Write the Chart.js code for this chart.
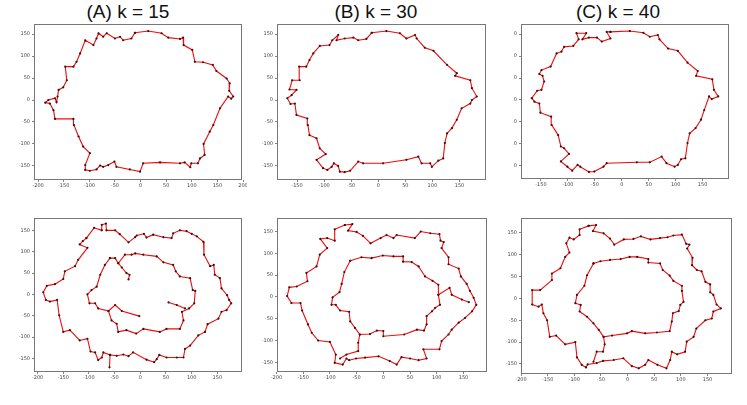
<!DOCTYPE html>
<html>
<head>
<title>Loop reconstruction for different k</title>
<script src="https://cdn.jsdelivr.net/npm/chart.js"></script>
<style>
  body { margin: 0; background: #fff; width: 747px; height: 405px; overflow: hidden; position: relative; }
  .ttl { position: absolute; top: 2px; width: 140px; text-align: center; font-family: "Liberation Sans", Arial, sans-serif;
         font-size: 19px; line-height: 19px; color: #111; }
  canvas { position: absolute; }
</style>
</head>
<body>
<div class="ttl" style="left:58px">(A) k = 15</div>
<div class="ttl" style="left:306px">(B) k = 30</div>
<div class="ttl" style="left:548px">(C) k = 40</div>
<canvas id="pa"></canvas>
<canvas id="pb"></canvas>
<canvas id="pc"></canvas>
<canvas id="pd"></canvas>
<canvas id="pe"></canvas>
<canvas id="pf"></canvas>
<script>
// ---- data ----
const aX = [-11,15,41,54,77,83,84,101,106,122,141,148,168,174,173,181,177,171,155,142,135,123,125,116,112,99,97,86,77,38,5,-1,-21,-47,-51,-63,-73,-79,-86,-99,-108,-108,-99,-112,-121,-130,-131,-167,-170,-177,-186,-180,-167,-164,-162,-160,-151,-144,-147,-131,-125,-118,-108,-92,-86,-82,-73,-66,-50,-40,-34,-18,-11];
const aY = [153,157,152,142,139,142,125,114,87,86,80,66,49,38,21,8,3,8,-19,-57,-72,-100,-125,-133,-144,-144,-153,-142,-144,-142,-144,-163,-158,-152,-140,-148,-152,-149,-158,-161,-159,-148,-121,-106,-83,-57,-43,-43,-23,-8,-6,0,4,-5,8,23,29,45,76,76,87,106,136,125,140,152,144,152,140,144,136,140,153];

const bX = [-12,15,40,52,68,71,86,102,127,145,142,170,173,182,173,170,154,145,136,127,123,120,111,99,96,80,74,52,9,-28,-37,-52,-62,-71,-74,-82,-86,-94,-102,-114,-97,-108,-114,-127,-130,-131,-151,-154,-162,-168,-160,-151,-164,-159,-145,-146,-133,-127,-120,-108,-90,-85,-74,-77,-62,-46,-37,-22,-12];
const bY = [153,157,152,140,148,140,119,112,80,61,55,45,27,8,0,-8,-19,-45,-64,-76,-98,-133,-138,-152,-144,-144,-129,-136,-144,-144,-140,-161,-164,-163,-150,-144,-152,-159,-155,-136,-123,-110,-87,-80,-57,-42,-34,-8,-9,4,11,23,24,45,45,76,76,91,106,123,125,136,148,136,140,142,136,139,153];

const cX = [-21,15,40,52,67,70,86,104,122,141,138,168,171,179,167,162,153,147,137,126,122,118,110,104,98,83,74,52,28,-28,-34,-51,-61,-77,-82,-92,-101,-113,-98,-107,-113,-118,-130,-131,-151,-153,-162,-167,-157,-149,-144,-147,-153,-149,-132,-121,-112,-107,-90,-80,-84,-66,-73,-61,-46,-37,-21,-28,-21];
const cY = [155,157,153,144,148,138,117,112,85,66,55,47,23,8,2,8,-23,-45,-64,-76,-98,-133,-135,-148,-152,-144,-129,-142,-142,-144,-152,-163,-164,-152,-148,-161,-152,-140,-123,-110,-106,-80,-57,-38,-29,-8,-4,4,21,23,42,55,59,68,76,106,110,121,123,138,152,152,138,142,142,133,140,155,155];

const dOutX = [-105,-90,-75,-75,-67,-66,-49,-40,-23,-10,-7,7,12,25,45,61,64,77,90,100,110,123,124,136,143,145,155,158,169,173,177,168,158,152,131,126,113,97,87,84,71,51,37,32,27,12,-14,-23,-33,-46,-59,-60,-59,-72,-75,-82,-88,-97,-103,-118,-137,-150,-158,-162,-176,-184,-189,-182,-166,-150,-147,-127,-121,-103,-118,-112,-105];
const dOutY = [132,156,150,163,166,150,150,141,122,134,138,142,133,140,134,132,143,150,148,142,136,123,93,66,69,46,38,14,-2,-13,-21,-37,-41,-57,-70,-88,-96,-120,-128,-148,-148,-148,-142,-152,-159,-153,-136,-145,-141,-144,-142,-171,-142,-136,-148,-154,-136,-134,-104,-108,-84,-88,-49,-13,-17,-13,5,20,24,36,54,66,81,109,117,125,132];
const dInX = [-59,-49,-43,-30,-17,-10,6,32,45,64,69,77,97,102,107,105,95,81,84,77,51,38,6,-8,-27,-43,-46,-56,-62,-82,-88,-99,-103,-95,-85,-78,-69,-59];
const dInY = [85,85,73,93,93,96,93,89,75,69,54,42,38,10,8,-21,-33,-41,-61,-81,-81,-88,-81,-92,-84,-88,-69,-61,-39,-33,-21,-21,0,10,18,46,69,85];
const dTail1X = [-43,-36,-27,-21,-23];
const dTail1Y = [73,63,50,46,35];
const dTail2X = [-62,-49,-36,-2];
const dTail2Y = [-39,-25,-39,-51];
const dTail3X = [55,71,87];
const dTail3Y = [-19,-25,-33];

const eOutX = [-72,-58,-66,-50,-38,-24,-5,6,19,25,59,70,88,105,107,113,109,122,122,141,145,156,162,169,174,166,153,141,128,122,109,105,75,81,66,50,34,25,12,-9,-34,-51,-64,-69,-76,-91,-89,-100,-122,-134,-141,-152,-155,-172,-180,-176,-162,-142,-144,-125,-119,-105,-118,-105,-91,-91,-72];
const eOutY = [165,167,152,149,140,123,135,142,135,142,135,150,146,144,129,126,112,91,75,65,47,30,14,-2,-18,-33,-48,-59,-75,-86,-101,-120,-120,-141,-145,-141,-138,-155,-147,-136,-139,-141,-145,-141,-155,-151,-132,-103,-100,-82,-63,-31,-14,-14,2,22,24,36,55,70,97,112,133,135,129,155,165];
const eInX = [-62,-41,-22,-1,19,37,37,53,66,78,92,103,103,106,97,91,81,81,76,63,39,0,0,-12,-25,-44,-53,-62,-64,-81,-89,-97,-95,-82,-78,-73,-62];
const eInY = [83,91,89,95,93,93,81,80,70,47,37,28,5,-18,-25,-33,-44,-63,-77,-75,-86,-90,-78,-77,-85,-86,-71,-56,-34,-31,-18,-18,-1,11,30,57,83];
const eLink1X = [103,124,128,147,160];
const eLink1Y = [5,21,5,-6,-12];
const eLink2X = [-44,-47,-47,-69,-81];
const eLink2Y = [-86,-105,-124,-132,-141];

const fOutX = [-73,-59,-65,-45,-33,-25,-7,11,25,43,61,75,86,102,110,116,112,122,121,130,139,146,155,155,161,167,175,161,158,146,129,124,111,108,93,83,80,73,56,39,33,21,8,-8,-26,-46,-58,-75,-78,-86,-95,-98,-117,-134,-146,-151,-158,-161,-167,-179,-179,-164,-142,-142,-126,-117,-109,-115,-109,-101,-90,-90,-73];
const fOutY = [166,168,154,149,137,123,135,136,142,135,138,140,144,146,125,123,114,93,76,65,62,38,32,14,8,-14,-23,-30,-46,-50,-69,-88,-99,-122,-128,-122,-141,-160,-152,-141,-152,-160,-155,-137,-141,-143,-148,-151,-158,-152,-135,-100,-105,-85,-88,-50,-34,-14,-19,-14,19,19,42,57,69,95,105,126,139,135,145,158,166];
const fInX = [-64,-51,-33,-13,4,18,39,39,61,66,79,86,102,102,105,99,96,85,83,79,55,33,8,-1,-29,-45,-54,-64,-76,-90,-88,-98,-95,-81,-76,-64];
const fInY = [80,85,88,90,95,95,90,82,80,65,52,40,29,17,-8,-15,-29,-34,-53,-75,-78,-80,-75,-80,-85,-88,-72,-57,-42,-30,-15,-11,8,29,53,80];
const fLinkX = [-45,-43,-46,-58,-64];
const fLinkY = [-88,-105,-122,-122,-145];

// tick values
const xTicksA = [-200,-150,-100,-50,0,50,100,150,200];
const xTicksBC = [-150,-100,-50,0,50,100,150];
const xTicksLow = [-200,-150,-100,-50,0,50,100,150];
const yTicks = [-150,-100,-50,0,50,100,150];

// ---- drawing ----
const PL = 32, PT = 6, PR = 5, PB = 16;

const frameBox = {
  id: 'frameBox',
  afterDraw(chart) {
    const a = chart.chartArea, g = chart.ctx;
    g.save();
    g.strokeStyle = '#777';
    g.lineWidth = 1;
    g.strokeRect(a.left + 0.5, a.top + 0.5, a.right - a.left - 1, a.bottom - a.top - 1);
    g.restore();
  }
};

function noPad(s) { s.paddingTop = 0; s.paddingBottom = 0; s.paddingLeft = 0; s.paddingRight = 0; }

function panel(id, frame, xr, yr, xt, yt, series, yLabel) {
  const [l, t, r, b] = frame;
  const cv = document.getElementById(id);
  const w = r - l + PL + PR, h = b - t + PT + PB;
  cv.width = w; cv.height = h;
  cv.style.left = (l - PL) + 'px';
  cv.style.top = (t - PT) + 'px';
  cv.style.width = w + 'px';
  cv.style.height = h + 'px';

  const tickFont = { family: 'DejaVu Sans', size: 5 };
  new Chart(cv.getContext('2d'), {
    type: 'scatter',
    data: {
      datasets: series.map(([xs, ys]) => ({
        data: xs.map((x, i) => ({ x: x, y: ys[i] })),
        showLine: true,
        borderColor: '#f00a0a',
        borderWidth: 1.1,
        tension: 0,
        pointRadius: 1.1,
        pointBackgroundColor: '#3a1010',
        pointBorderWidth: 0
      }))
    },
    options: {
      responsive: false,
      animation: false,
      events: [],
      layout: { padding: { left: 0, top: PT, right: PR, bottom: 0 } },
      plugins: { legend: { display: false }, tooltip: { enabled: false } },
      scales: {
        x: {
          type: 'linear', min: xr[0], max: xr[1],
          afterBuildTicks: s => { s.ticks = xt.map(v => ({ value: v })); },
          afterFit: s => { s.height = PB; noPad(s); },
          border: { display: false },
          grid: { drawOnChartArea: false, tickLength: 2, color: '#666', lineWidth: 0.8 },
          ticks: { font: tickFont, color: '#444', padding: 1, maxRotation: 0, autoSkip: false }
        },
        y: {
          type: 'linear', min: yr[0], max: yr[1],
          afterBuildTicks: s => { s.ticks = yt.map(v => ({ value: v })); },
          afterFit: s => { s.width = PL; noPad(s); },
          border: { display: false },
          grid: { drawOnChartArea: false, tickLength: 2, color: '#666', lineWidth: 0.8 },
          ticks: { font: tickFont, color: '#444', padding: 2, autoSkip: false,
                   callback: yLabel || (v => v) }
        }
      }
    },
    plugins: [frameBox]
  });
}

panel('pa', [34, 24, 242, 180], [-208, 198], [-182, 173], xTicksA, yTicks, [[aX, aY]]);
panel('pb', [277, 24, 486, 180], [-187, 199], [-182, 173], xTicksBC, yTicks, [[bX, bY]]);
// the y labels of panel C are cut down to their last digit in the reference
panel('pc', [521, 24, 729, 179], [-187, 199], [-180, 173], xTicksBC, yTicks, [[cX, cY]], () => '0');
panel('pd', [34, 218, 242, 372], [-207, 198], [-182, 179], xTicksLow, yTicks,
      [[dOutX, dOutY], [dInX, dInY], [dTail1X, dTail1Y], [dTail2X, dTail2Y], [dTail3X, dTail3Y]]);
panel('pe', [277, 218, 487, 372], [-199, 194], [-172, 181], xTicksLow, yTicks,
      [[eOutX, eOutY], [eInX, eInY], [eLink1X, eLink1Y], [eLink2X, eLink2Y]]);
panel('pf', [521, 218, 732, 374], [-200, 196], [-173, 184], xTicksLow, yTicks,
      [[fOutX, fOutY], [fInX, fInY], [fLinkX, fLinkY]]);
</script>
</body>
</html>
